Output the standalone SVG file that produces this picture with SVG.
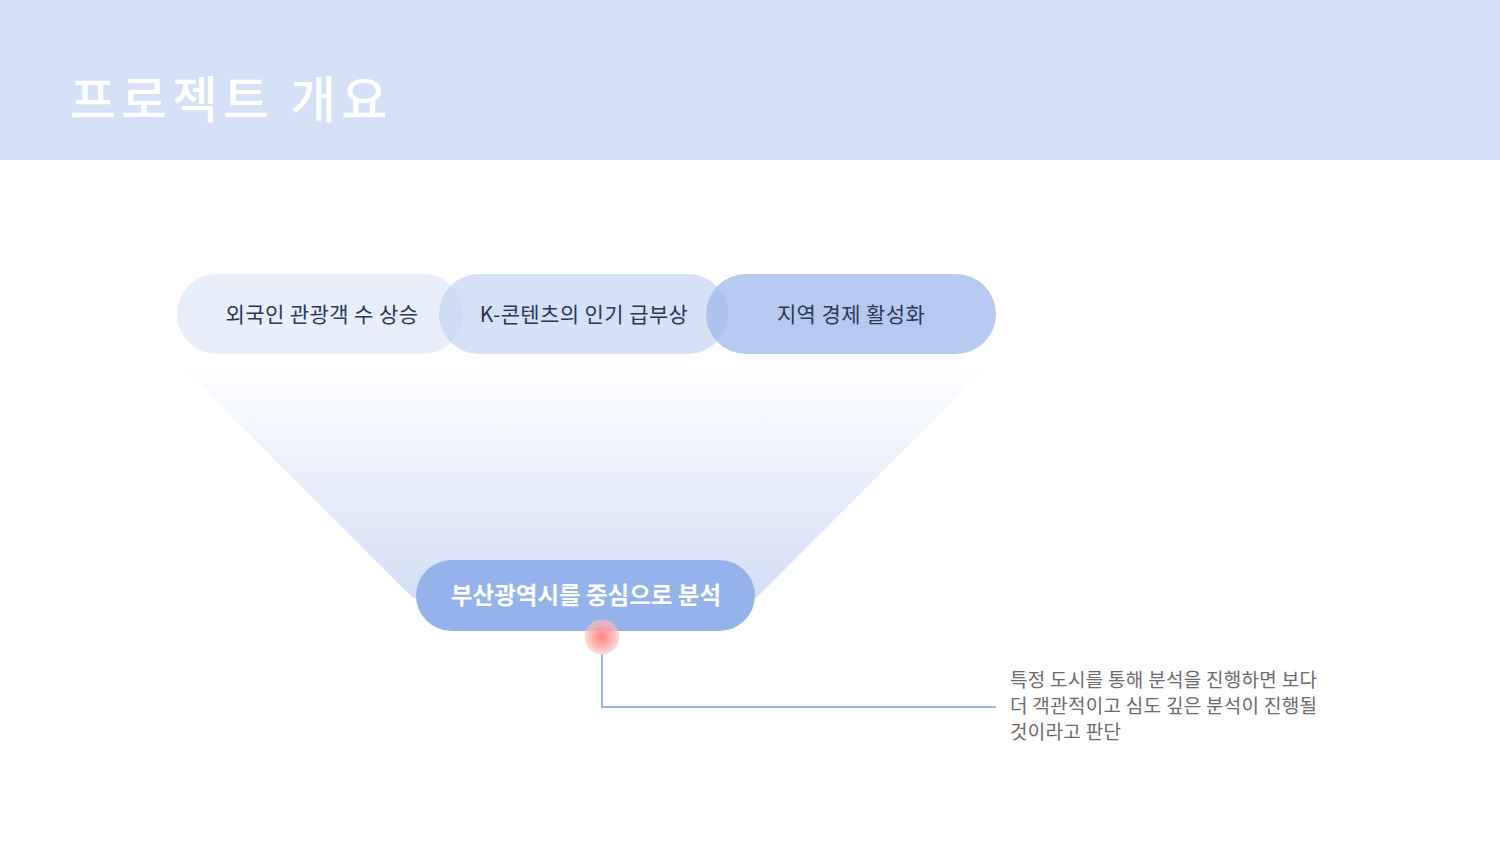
<svg xmlns="http://www.w3.org/2000/svg" width="1500" height="844" viewBox="0 0 1500 844">
<defs>
<linearGradient id="funnel" x1="0" y1="0" x2="0" y2="1">
<stop offset="0" stop-color="#ffffff"/>
<stop offset="1" stop-color="#d3dff6"/>
</linearGradient>
<radialGradient id="dot" cx="0.5" cy="0.5" r="0.5">
<stop offset="0" stop-color="#ff7a7a" stop-opacity="0.95"/>
<stop offset="0.75" stop-color="#ffb3b3" stop-opacity="0.8"/>
<stop offset="1" stop-color="#ffc4c4" stop-opacity="0.6"/>
</radialGradient>
<style>
.kr{font-family:"Noto Sans CJK KR","Noto Sans",sans-serif;}
.pilltxt{font-size:21px;letter-spacing:0.4px;fill:#2a3857;text-anchor:middle;}
.desc{font-size:19px;letter-spacing:0.3px;fill:#6b6b6b;}
</style>
</defs>
<rect width="1500" height="844" fill="#ffffff"/>
<g id="header">
<rect x="0" y="0" width="1500" height="160" fill="#d5e1f7"/>
<text x="70" y="118" class="kr" font-size="50" font-weight="500" fill="#ffffff" letter-spacing="5">프로젝트 개요</text>
</g>
<g id="funnel-shape">
<polygon points="173,358 996,358 756,598 413,598" fill="url(#funnel)"/>
</g>
<g id="node-1">
<rect x="177" y="274" width="286" height="80" rx="40" fill="#dbe5f8" fill-opacity="0.65"/>
<text x="322" y="322" class="kr pilltxt">외국인 관광객 수 상승</text>
</g>
<g id="node-2">
<rect x="439" y="274" width="289" height="80" rx="40" fill="#bfd1f3" fill-opacity="0.65"/>
<text x="584" y="322" class="kr pilltxt">K-콘텐츠의 인기 급부상</text>
</g>
<g id="node-3">
<rect x="706" y="274" width="290" height="80" rx="40" fill="#9db8ec" fill-opacity="0.75"/>
<text x="851" y="322" class="kr pilltxt">지역 경제 활성화</text>
</g>
<g id="node-main">
<rect x="416" y="560" width="339" height="71" rx="35.5" fill="#93b3ea"/>
<text x="586" y="604" class="kr" font-size="23.5" font-weight="bold" fill="#ffffff" text-anchor="middle">부산광역시를 중심으로 분석</text>
</g>
<g id="connectors">
<polyline points="602,654 602,707 996,707" fill="none" stroke="#9db7ee" stroke-width="2"/>
</g>
<g id="marker-dot">
<circle cx="602" cy="637" r="17.5" fill="url(#dot)"/>
</g>
<g id="note">
<text class="kr desc"><tspan x="1010" y="687">특정 도시를 통해 분석을 진행하면 보다</tspan><tspan x="1010" y="713">더 객관적이고 심도 깊은 분석이 진행될</tspan><tspan x="1010" y="739">것이라고 판단</tspan></text>
</g>
</svg>
